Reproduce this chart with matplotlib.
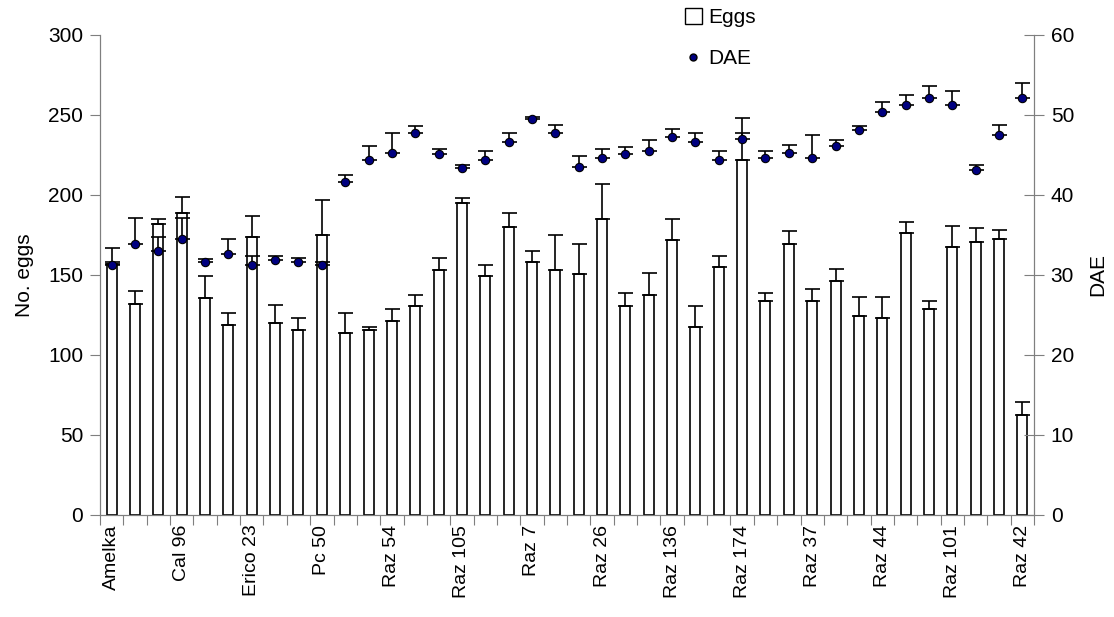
import numpy as np
import matplotlib.pyplot as plt
from matplotlib.patches import Patch
from matplotlib.lines import Line2D

plt.rcParams['font.family'] = ['Liberation Sans', 'DejaVu Sans']

# labels shown under every third genotype
tick_labels = ['Amelka', 'Cal 96', 'Erico 23', 'Pc 50', 'Raz 54', 'Raz 105', 'Raz 7',
               'Raz 26', 'Raz 136', 'Raz 174', 'Raz 37', 'Raz 44', 'Raz 101', 'Raz 42']

# number of eggs (left axis) and its upper error
eggs = [157, 132, 182, 189, 135.5, 119, 174, 120, 115.5, 175,
        114, 115.5, 121, 130.5, 153, 195, 149.5, 180, 158, 153,
        150.5, 185, 130.5, 137.5, 172, 117.5, 155, 222, 134, 169.5,
        134, 146, 124.5, 123, 176, 128.5, 167.5, 170.5, 172.5, 62.5]
eggs_err = [10, 8, 3, 10, 14, 7, 13, 11, 7.5, 22,
            12, 2, 8, 7, 7.5, 3, 7, 9, 7, 22,
            19, 22, 8, 14, 13, 13, 7, 26, 4.5, 8,
            7, 8, 12, 13, 7, 5.5, 13, 9, 5.5, 8]

# days after emergence (right axis) and its upper error
dae = [31.3, 33.9, 33.0, 34.5, 31.6, 32.6, 31.3, 31.9, 31.6, 31.3,
       41.6, 44.4, 45.2, 47.7, 45.1, 43.4, 44.4, 46.6, 49.5, 47.7,
       43.5, 44.6, 45.1, 45.5, 47.3, 46.6, 44.4, 47.0, 44.6, 45.3,
       44.6, 46.1, 48.1, 50.4, 51.3, 52.1, 51.3, 43.1, 47.5, 52.1]
dae_err = [0.3, 3.2, 1.8, 2.6, 0.4, 1.9, 1.1, 0.5, 0.5, 0.3,
           0.9, 1.7, 2.5, 0.9, 0.7, 0.4, 1.1, 1.1, 0.2, 1.0,
           1.4, 1.1, 0.9, 1.4, 0.9, 1.1, 1.1, 0.7, 0.9, 0.9,
           2.9, 0.8, 0.5, 1.2, 1.25, 1.5, 1.75, 0.6, 1.25, 1.9]

n = len(eggs)
x = np.arange(n) + 0.5
axis_col = '#7f7f7f'

fig = plt.figure(figsize=(11.14, 6.17), dpi=100)
ax = fig.add_axes([100/1114, 1-515/617, 934/1114, 480/617])
ax2 = ax.twinx()

ax.bar(x, eggs, width=0.43, color='white', edgecolor='black', linewidth=1.2, zorder=2)
ax.errorbar(x, eggs, yerr=[np.zeros(n), eggs_err], fmt='none', ecolor='black',
            elinewidth=1.2, capsize=5.4, capthick=1.2, zorder=3)

ax2.errorbar(x, dae, yerr=[np.zeros(n), dae_err], fmt='none', ecolor='black',
             elinewidth=1.2, capsize=5.4, capthick=1.2, zorder=3)
ax2.plot(x, dae, 'o', color='#000080', markeredgecolor='black', markeredgewidth=0.8,
         markersize=6, zorder=4)

ax.set_xlim(0, n)
ax.set_ylim(0, 300)
ax2.set_ylim(0, 60)
ax.set_yticks(np.arange(0, 301, 50))
ax2.set_yticks(np.arange(0, 61, 10))

ax.set_xticks(np.arange(n + 1))
ax.set_xticklabels([])
ax.set_xticks(x[::3], minor=True)
ax.set_xticklabels(tick_labels, minor=True, rotation=90, fontsize=14)
ax.tick_params(axis='x', which='minor', length=0, pad=7)
ax.tick_params(axis='x', which='major', direction='out', length=7, color=axis_col)
ax.tick_params(axis='y', direction='out', length=7, color=axis_col, labelsize=15, pad=5)
ax2.tick_params(axis='y', direction='inout', length=14, color=axis_col, labelsize=15, pad=5)

for a in (ax, ax2):
    a.spines['top'].set_visible(False)
    for s in ('left', 'right', 'bottom'):
        a.spines[s].set_color(axis_col)

ax.set_ylabel('No. eggs', fontsize=15, labelpad=10)
ax2.set_ylabel('DAE', fontsize=15, labelpad=10)

handles = [Patch(facecolor='white', edgecolor='black', linewidth=1),
           Line2D([], [], marker='o', linestyle='none', markerfacecolor='#000080',
                  markeredgecolor='black', markersize=5)]
fig.legend(handles, ['Eggs', 'DAE'], loc='upper left', bbox_to_anchor=(685/1114, 1-8/617),
           frameon=False, fontsize=15, handlelength=0.8, handleheight=0.8,
           handletextpad=0.3, labelspacing=1.05, borderpad=0, borderaxespad=0)

fig.savefig('out.png', dpi=100)
